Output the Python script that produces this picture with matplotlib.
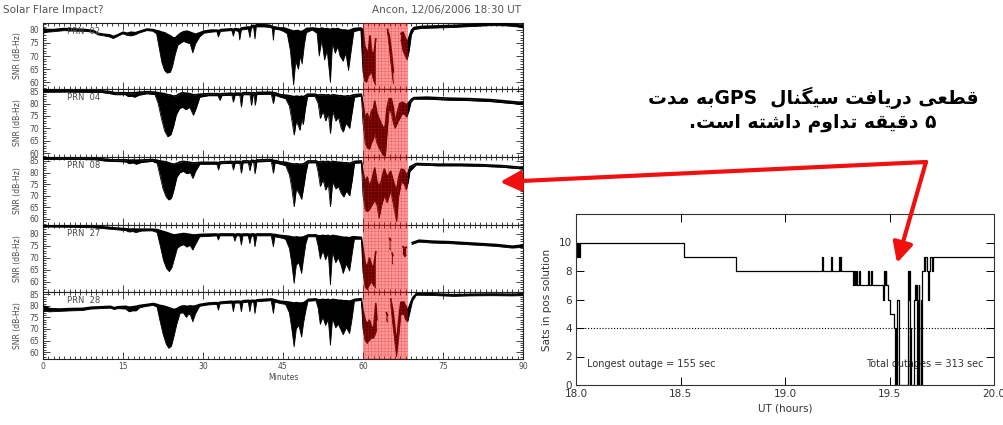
import re
import numpy as np
import matplotlib
matplotlib.use("Agg")
import matplotlib.pyplot as plt
from matplotlib.ticker import MultipleLocator, FixedLocator
from matplotlib.patches import FancyArrowPatch

nan = np.nan

# ---------------------------------------------------------------------------
# SNR traces (minutes after 18:30 UT): knots of (minute, upper envelope, lower envelope)
# ---------------------------------------------------------------------------
PRN02 = [
    (0.0, 80.3, 78.6), (0.8, 80.0, 79.0), (2.0, 80.0, 79.2), (4.0, 80.4, 79.6),
    (6.0, 80.2, 79.4), (8.0, 80.0, 79.3), (9.5, 79.6, 79.0), (10.3, 78.6, 78.0),
    (11.5, 78.2, 77.6), (12.5, 78.0, 77.2), (13.2, 77.4, 76.6), (14.0, 78.0, 77.4),
    (15.0, 79.0, 78.4), (15.8, 78.6, 77.8), (16.5, 79.0, 77.6), (17.3, 78.8, 78.0),
    (18.2, 79.4, 78.8), (19.5, 80.2, 79.6), (20.6, 80.0, 79.4), (21.3, 79.6, 78.4),
    (21.8, 79.4, 73.0), (22.3, 79.0, 67.5), (22.8, 78.8, 64.5), (23.3, 78.2, 63.5),
    (23.9, 77.6, 63.8), (24.3, 77.0, 66.0), (24.8, 76.8, 70.5), (25.3, 77.8, 74.0),
    (25.8, 78.6, 74.8), (26.4, 79.2, 75.5), (27.0, 79.4, 75.0), (27.6, 79.0, 74.6),
    (28.1, 78.6, 71.2), (28.6, 78.2, 74.5), (29.4, 78.8, 77.2), (30.2, 79.4, 78.6),
    (31.5, 79.8, 79.0), (32.6, 79.8, 79.2), (32.9, 79.6, 77.2), (33.3, 80.0, 79.3),
    (35.4, 80.3, 79.6), (35.7, 80.0, 77.5), (36.0, 80.4, 79.7), (36.7, 80.2, 79.2),
    (36.9, 80.0, 76.1), (37.2, 80.6, 79.8), (38.5, 81.0, 80.2), (38.8, 80.8, 77.0),
    (39.1, 81.4, 80.6), (39.5, 81.6, 80.8), (39.75, 81.4, 76.5), (40.0, 81.8, 81.0),
    (41.5, 81.8, 81.0), (42.6, 81.6, 80.8), (43.0, 81.2, 80.4), (43.2, 81.0, 76.0),
    (43.4, 81.0, 80.2), (44.5, 80.6, 79.8), (45.2, 80.6, 79.2), (45.8, 80.2, 78.4),
    (46.4, 79.8, 72.0), (47.0, 79.4, 59.0), (47.4, 79.6, 68.0), (47.9, 79.6, 65.0),
    (48.3, 79.2, 70.0), (48.6, 79.4, 67.0), (49.0, 79.8, 74.0), (49.4, 80.4, 78.8),
    (50.5, 80.6, 79.8), (51.4, 80.4, 78.6), (51.8, 80.2, 70.0), (52.3, 80.6, 76.0),
    (52.8, 80.2, 68.5), (53.3, 80.4, 72.0), (53.9, 80.0, 60.0), (54.3, 80.4, 75.0),
    (54.8, 80.2, 71.0), (55.3, 80.4, 73.5), (55.7, 80.0, 70.0), (56.3, 79.8, 68.0),
    (56.8, 79.8, 71.0), (57.3, 79.6, 64.5), (57.8, 80.0, 72.0), (58.3, 80.4, 79.2),
    (59.6, 80.6, 79.8), (60.0, 80.0, 64.0), (60.3, 74.0, 60.5), (60.7, 72.0, 60.0),
    (61.0, 71.0, 62.0), (61.3, 77.6, 63.0), (61.6, 72.0, 64.0), (62.0, 70.0, 60.5),
    (62.4, 76.5, 59.0), (62.6, nan, nan),
    (64.6, 80.0, 79.0), (64.9, 78.0, 74.0), (65.3, 72.0, 66.0), (65.7, 64.0, 59.5),
    (65.9, nan, nan),
    (67.1, 78.5, 76.0), (67.5, 79.0, 72.0), (67.9, 77.0, 70.0), (68.3, 75.0, 68.5),
    (68.7, 77.5, 72.0), (69.1, 79.8, 78.0), (69.6, 80.8, 80.0), (71.0, 81.2, 80.4),
    (74.0, 81.4, 80.6), (77.0, 81.6, 80.8), (80.0, 81.9, 81.1), (84.0, 82.3, 81.5),
    (87.0, 82.2, 81.4), (89.0, 81.8, 81.0), (90.0, 81.6, 80.6),
]

PRN04 = [
    (0.0, 85.4, 84.6), (4.0, 85.4, 84.7), (8.0, 85.3, 84.6), (11.0, 85.2, 84.5),
    (12.6, 84.8, 84.0), (13.5, 84.4, 83.6), (15.5, 84.4, 83.6), (16.0, 84.3, 82.8),
    (16.6, 84.4, 83.0), (17.2, 84.4, 82.6), (18.0, 84.6, 83.4), (19.5, 84.8, 84.0),
    (21.0, 84.6, 83.6), (21.6, 84.4, 80.0), (22.2, 84.2, 74.0), (22.8, 84.0, 69.0),
    (23.4, 83.6, 66.6), (24.0, 83.4, 67.5), (24.5, 83.0, 71.0), (25.0, 83.2, 75.5),
    (25.6, 84.0, 78.0), (26.2, 84.4, 78.5), (26.8, 84.2, 77.5), (27.5, 84.0, 78.5),
    (28.2, 83.6, 75.3), (28.7, 83.6, 78.0), (29.4, 83.8, 82.6), (31.0, 84.0, 83.2),
    (32.8, 84.0, 83.2), (33.2, 83.8, 81.3), (33.5, 84.0, 83.2), (35.4, 84.2, 83.4),
    (35.7, 84.0, 80.6), (36.0, 84.2, 83.4), (36.9, 84.2, 83.4), (37.2, 84.0, 78.6),
    (37.5, 84.4, 83.6), (38.8, 84.4, 83.6), (39.1, 84.2, 79.3), (39.4, 84.4, 83.6),
    (39.6, 84.4, 83.2), (39.8, 84.2, 79.3), (40.1, 84.5, 83.7), (42.8, 84.6, 83.8),
    (43.2, 84.4, 80.0), (43.5, 84.4, 83.4), (44.5, 83.6, 82.6), (45.5, 83.4, 82.0),
    (46.2, 83.2, 79.0), (46.6, 83.0, 74.0), (47.1, 82.8, 67.3), (47.5, 83.0, 73.0),
    (48.2, 82.8, 69.2), (48.5, 83.0, 74.0), (48.8, 82.8, 71.5), (49.2, 83.2, 78.0),
    (49.6, 83.8, 82.8), (51.0, 83.8, 83.0), (51.6, 83.4, 80.0), (52.0, 83.6, 74.0),
    (52.5, 83.6, 77.0), (53.0, 83.4, 73.0), (53.5, 83.6, 76.0), (53.9, 83.2, 67.9),
    (54.3, 83.6, 77.0), (54.9, 83.4, 73.0), (55.4, 83.2, 74.5), (55.9, 83.2, 70.0),
    (56.3, 83.0, 68.5), (56.8, 83.0, 72.0), (57.2, 83.2, 71.0), (57.5, 83.0, 70.0),
    (58.0, 83.4, 77.0), (58.4, 83.6, 82.6), (59.7, 83.8, 83.0), (60.0, 80.0, 72.0),
    (60.4, 74.0, 64.0), (60.8, 76.0, 62.0), (61.2, 73.0, 61.5), (61.6, 77.0, 64.0),
    (62.0, 78.0, 66.0), (62.2, 81.0, 68.0), (62.6, 76.0, 64.0), (63.0, 74.0, 62.0),
    (63.4, 72.0, 60.5), (63.8, 70.0, 59.0), (64.2, 71.0, 58.8), (64.5, 78.0, 68.0),
    (64.9, 82.0, 78.0), (65.3, 82.0, 76.0), (65.7, 78.0, 72.0), (66.0, 72.0, 70.0),
    (66.4, 76.0, 72.0), (66.9, 80.0, 74.0), (67.4, 80.5, 76.0), (67.8, 80.0, 75.5),
    (68.2, 79.5, 74.5), (68.6, 80.5, 77.0), (69.0, 81.6, 80.6), (69.5, 82.4, 81.8),
    (72.0, 82.6, 81.8), (76.0, 82.2, 81.4), (80.0, 82.0, 81.2), (84.0, 81.6, 80.8),
    (87.0, 81.0, 80.2), (90.0, 80.4, 79.6),
]

PRN08 = [
    (0.0, 86.5, 85.7), (5.0, 86.4, 85.7), (10.0, 86.2, 85.5), (11.5, 85.8, 85.0),
    (13.0, 85.5, 84.8), (15.5, 85.5, 84.6), (16.2, 85.3, 83.8), (16.8, 85.4, 84.2),
    (17.5, 85.3, 83.6), (18.5, 85.4, 84.4), (20.5, 85.6, 84.8), (21.4, 85.3, 84.0),
    (21.9, 85.0, 79.0), (22.5, 84.8, 73.0), (23.1, 84.6, 69.5), (23.6, 84.2, 68.2),
    (24.1, 83.8, 69.0), (24.6, 83.6, 73.0), (25.1, 84.0, 78.0), (25.7, 84.6, 80.0),
    (26.3, 84.8, 80.5), (27.0, 84.6, 79.5), (27.6, 84.4, 80.0), (28.1, 84.2, 77.5),
    (28.6, 84.2, 80.5), (29.4, 84.4, 83.6), (32.6, 84.4, 83.6), (32.9, 84.2, 81.1),
    (33.2, 84.6, 83.8), (35.4, 84.8, 84.0), (35.7, 84.6, 81.1), (36.0, 84.8, 84.0),
    (36.9, 84.8, 84.0), (37.2, 84.6, 79.7), (37.5, 85.0, 84.2), (38.5, 85.0, 84.2),
    (38.8, 84.8, 80.8), (39.1, 85.2, 84.4), (39.5, 85.2, 84.4), (39.75, 85.0, 79.5),
    (40.1, 85.4, 84.6), (42.8, 85.6, 84.8), (43.2, 85.2, 79.7), (43.5, 85.2, 84.2),
    (44.5, 84.6, 83.6), (45.5, 84.4, 83.0), (46.2, 84.0, 79.0), (46.6, 83.8, 74.0),
    (47.1, 83.6, 65.3), (47.5, 83.8, 73.0), (48.0, 83.6, 71.0), (48.5, 83.6, 68.5),
    (48.9, 83.8, 74.0), (49.3, 84.4, 80.0), (49.7, 85.0, 84.2), (51.2, 85.0, 84.2),
    (51.6, 84.6, 80.0), (52.0, 84.6, 74.0), (52.5, 84.8, 77.0), (53.0, 84.6, 72.5),
    (53.5, 84.8, 75.0), (53.9, 84.4, 65.3), (54.3, 84.8, 76.0), (54.9, 84.6, 73.0),
    (55.4, 84.4, 74.0), (55.9, 84.4, 71.1), (56.4, 84.2, 69.5), (56.9, 84.2, 72.0),
    (57.5, 84.0, 70.0), (58.0, 84.4, 77.0), (58.4, 84.8, 84.0), (59.7, 85.0, 84.2),
    (60.0, 80.0, 70.0), (60.4, 76.0, 64.0), (60.8, 78.0, 63.1), (61.2, 74.0, 64.0),
    (61.7, 77.0, 66.0), (62.2, 81.9, 68.0), (62.6, 76.0, 66.0), (63.0, 74.0, 60.3),
    (63.4, 76.0, 65.0), (64.0, 81.5, 70.0), (64.5, 78.0, 67.0), (65.2, 80.5, 72.0),
    (65.7, 76.0, 66.0), (66.3, 72.0, 58.9), (66.7, 78.0, 70.0), (67.2, 81.5, 76.0),
    (67.7, 81.0, 75.0), (68.1, 79.0, 72.5), (68.5, 80.0, 76.0), (68.8, 82.5, 80.5),
    (70.0, 83.9, 83.3), (74.0, 83.6, 82.9), (78.0, 83.6, 82.9), (82.0, 83.4, 82.7),
    (86.0, 83.0, 82.3), (90.0, 82.2, 81.5),
]

PRN27 = [
    (0.0, 83.6, 82.9), (5.0, 83.5, 82.8), (9.0, 83.3, 82.6), (11.0, 83.0, 82.3),
    (13.0, 82.6, 81.9), (15.5, 82.2, 81.4), (16.2, 82.0, 80.8), (16.8, 82.1, 81.0),
    (17.5, 82.0, 80.6), (18.5, 82.0, 81.2), (20.5, 82.0, 81.3), (21.4, 81.8, 80.6),
    (22.0, 81.4, 75.0), (22.6, 81.0, 69.0), (23.2, 80.6, 65.5), (23.7, 80.2, 64.3),
    (24.2, 79.8, 66.0), (24.7, 79.6, 70.0), (25.2, 79.8, 74.0), (25.8, 80.0, 75.0),
    (26.4, 80.2, 75.5), (27.0, 80.0, 74.5), (27.6, 79.8, 75.2), (28.1, 79.6, 73.3),
    (28.6, 79.6, 75.5), (29.4, 79.8, 78.8), (32.6, 80.0, 79.2), (32.9, 79.8, 77.5),
    (33.2, 80.0, 79.2), (35.7, 80.0, 79.2), (36.0, 79.8, 77.0), (36.3, 80.0, 79.2),
    (36.9, 80.0, 79.2), (37.2, 79.8, 75.4), (37.5, 80.0, 79.2), (38.5, 80.0, 79.2),
    (38.8, 79.8, 76.0), (39.1, 80.0, 79.2), (39.5, 80.0, 79.0), (39.75, 79.8, 74.7),
    (40.1, 80.0, 79.2), (42.8, 80.0, 79.2), (43.2, 79.8, 74.7), (43.5, 79.8, 78.8),
    (44.5, 79.4, 78.4), (45.5, 79.2, 77.8), (46.2, 79.0, 74.0), (46.6, 78.8, 68.5),
    (47.1, 78.6, 59.4), (47.5, 78.8, 67.0), (48.0, 78.6, 68.0), (48.5, 78.6, 63.5),
    (48.9, 78.8, 70.0), (49.3, 79.2, 76.0), (49.7, 79.6, 78.8), (51.2, 79.6, 78.8),
    (51.6, 79.2, 75.0), (52.0, 79.2, 69.5), (52.5, 79.4, 73.0), (53.0, 79.2, 69.2),
    (53.5, 79.4, 72.0), (53.9, 79.0, 58.8), (54.3, 79.4, 72.5), (54.9, 79.2, 68.0),
    (55.4, 79.0, 70.0), (55.9, 78.8, 67.0), (56.3, 78.6, 63.5), (56.9, 78.6, 67.5),
    (57.5, 78.4, 64.5), (58.0, 78.8, 72.0), (58.4, 78.8, 77.8), (59.7, 78.6, 77.8),
    (60.0, 74.0, 64.0), (60.4, 68.0, 58.0), (60.8, 66.0, 56.7), (61.2, 70.0, 58.5),
    (61.6, 67.0, 60.0), (62.0, 66.0, 58.5), (62.4, 72.6, 57.5), (62.6, nan, nan),
    (65.0, 78.2, 74.0), (65.15, 77.5, 73.3), (65.3, nan, nan),
    (65.45, 72.0, 68.0), (65.6, 71.0, 67.5), (65.7, nan, nan),
    (67.5, 74.7, 72.0), (67.8, 74.0, 70.5), (68.1, 74.5, 71.0), (68.3, nan, nan),
    (69.2, 76.4, 75.6), (70.5, 77.4, 76.6), (73.0, 77.0, 76.2), (76.0, 76.8, 76.0),
    (79.0, 76.4, 75.6), (82.0, 76.0, 75.2), (85.0, 75.6, 74.8), (88.0, 74.9, 74.1),
    (90.0, 75.4, 74.4),
]

PRN28 = [
    (0.0, 79.8, 77.4), (0.6, 79.6, 77.6), (1.2, 78.8, 77.4), (3.0, 78.6, 77.6),
    (5.0, 78.8, 77.8), (7.5, 78.9, 78.0), (9.0, 79.4, 78.6), (11.0, 79.6, 78.8),
    (12.6, 79.8, 79.0), (13.4, 79.2, 78.4), (14.0, 79.6, 78.8), (15.5, 79.8, 78.6),
    (16.2, 79.4, 77.4), (16.8, 79.6, 77.8), (17.5, 79.8, 77.8), (18.2, 80.2, 79.2),
    (19.5, 80.6, 79.8), (20.7, 81.0, 80.2), (21.4, 80.6, 79.4), (21.9, 80.2, 74.0),
    (22.5, 80.0, 68.0), (23.1, 79.6, 63.5), (23.6, 79.2, 61.6), (24.1, 78.8, 62.5),
    (24.6, 78.4, 67.0), (25.1, 78.8, 72.0), (25.7, 79.6, 76.7), (26.3, 80.0, 77.0),
    (26.9, 79.8, 75.0), (27.2, 79.8, 76.0), (27.6, 80.0, 76.4), (28.1, 79.8, 73.1),
    (28.6, 80.0, 76.5), (29.4, 80.6, 79.8), (31.0, 81.2, 80.4), (32.6, 81.4, 80.6),
    (32.9, 81.2, 78.1), (33.2, 81.6, 80.8), (35.4, 82.0, 81.2), (35.7, 81.8, 77.5),
    (36.0, 82.0, 81.2), (36.9, 82.0, 81.2), (37.2, 81.8, 77.5), (37.5, 82.2, 81.4),
    (38.5, 82.4, 81.6), (38.8, 82.2, 77.5), (39.1, 82.4, 81.6), (39.5, 82.4, 81.6),
    (39.75, 82.2, 76.7), (40.1, 82.6, 81.8), (42.8, 83.0, 82.2), (43.2, 82.8, 76.7),
    (43.5, 82.6, 81.6), (44.5, 82.0, 81.0), (45.5, 81.8, 80.6), (46.2, 81.6, 77.0),
    (46.6, 81.4, 71.0), (47.1, 81.2, 62.3), (47.5, 81.4, 70.0), (48.0, 81.2, 71.5),
    (48.5, 81.2, 66.5), (48.9, 81.4, 73.0), (49.3, 82.0, 78.0), (49.7, 82.8, 82.0),
    (51.2, 83.0, 82.2), (51.6, 82.6, 79.0), (52.0, 82.6, 72.0), (52.5, 82.8, 75.0),
    (53.0, 82.6, 71.5), (53.5, 82.8, 74.0), (53.9, 82.4, 63.0), (54.3, 82.8, 74.5),
    (54.9, 82.6, 70.5), (55.4, 82.4, 72.0), (55.9, 82.4, 69.5), (56.3, 82.2, 67.5),
    (56.9, 82.2, 70.5), (57.5, 82.0, 68.0), (58.0, 82.4, 75.0), (58.4, 82.8, 82.0),
    (59.7, 83.1, 82.3), (60.0, 78.0, 70.0), (60.4, 74.0, 65.0), (60.8, 72.0, 63.7),
    (61.2, 73.8, 65.0), (61.6, 71.0, 66.0), (62.0, 70.0, 66.0), (62.4, 81.0, 68.0),
    (62.6, 74.0, 70.0), (62.8, nan, nan),
    (64.4, 77.0, 74.0), (64.6, 76.0, 73.0), (64.8, nan, nan),
    (65.2, 83.0, 80.5), (65.6, 78.0, 72.0), (66.0, 70.0, 64.0), (66.3, 63.0, 58.0),
    (66.7, 74.0, 66.0), (67.1, 81.5, 76.0), (67.6, 81.7, 76.5), (68.0, 80.0, 74.0),
    (68.4, 78.0, 73.0), (68.8, 80.5, 77.0), (69.3, 83.5, 82.0), (70.0, 85.3, 84.6),
    (73.0, 85.2, 84.5), (77.0, 84.8, 84.1), (80.0, 85.0, 84.3), (84.0, 85.1, 84.4),
    (88.0, 85.0, 84.3), (90.0, 85.2, 84.4),
]

PRN_NAMES = ["02", "04", "08", "27", "28"]
PRN_TRACES = [PRN02, PRN04, PRN08, PRN27, PRN28]
PRN_YLIMS = [(57.5, 82.5), (58.4, 85.9), (57.4, 86.7), (55.8, 83.75), (57.0, 86.0)]

FLARE_START, FLARE_END = 60.0, 68.4   # minutes, highlighted interval
MINUTE_TICKS = [0, 15, 30, 45, 60, 75, 90]

# ---------------------------------------------------------------------------
# Satellites used in the position solution (seconds after 18:00 UT)
# ---------------------------------------------------------------------------
ELAPSED_S = [0, 11, 22, 32, 43, 54, 65, 1861, 2758, 4241, 4255, 4396, 4410,
             4532, 4543, 4554, 4572, 4777, 4792, 4810, 4828, 4846, 4867, 4885,
             5029, 5044, 5076, 5090, 5292, 5299, 5306, 5321, 5332, 5346, 5378,
             5414, 5472, 5490, 5504, 5511, 5537, 5565, 5720, 5727, 5734, 5740,
             5747, 5760, 5766, 5814, 5832, 5850, 5864, 5872, 5890, 5905, 5915,
             5934, 5945, 5965, 5990, 6005, 6020, 6042, 6070, 6080, 6100, 6130,
             6145, 7200]
SATS = [10, 9, 10, 9, 10, 9, 10, 9, 8, 9, 8, 9, 8,
        9, 8, 9, 8, 7, 8, 7, 8, 7, 8, 7,
        8, 7, 8, 7, 6, 7, 8, 7, 8, 7, 6,
        5, 4, 0, 4, 0, 6, 0, 6, 8, 6, 8,
        0, 4, 0, 6, 7, 6, 7, 0, 6, 7, 0,
        6, 0, 8, 9, 8, 9, 8, 6, 8, 9, 8,
        9, 9]
MIN_SATS = 4
UT_TICKS = [18.0, 18.5, 19.0, 19.5, 20.0]

TITLE_LEFT = "Solar Flare Impact?"
TITLE_RIGHT = "Ancon, 12/06/2006 18:30 UT"
NOTE_LINES = ["قطعی دریافت سیگنال  GPSبه مدت", "۵ دقیقه تداوم داشته است."]

# ---------------------------------------------------------------------------
# Minimal Persian shaping for the note (contextual glyph forms + RTL order)
# forms: isolated, final, initial, medial (None = does not join to the left)
# ---------------------------------------------------------------------------
FORMS = {
    "ا": ("\uFE8D", "\uFE8E", None, None),
    "ب": ("\uFE8F", "\uFE90", "\uFE91", "\uFE92"),
    "ت": ("\uFE95", "\uFE96", "\uFE97", "\uFE98"),
    "د": ("\uFEA9", "\uFEAA", None, None),
    "ر": ("\uFEAD", "\uFEAE", None, None),
    "س": ("\uFEB1", "\uFEB2", "\uFEB3", "\uFEB4"),
    "ش": ("\uFEB5", "\uFEB6", "\uFEB7", "\uFEB8"),
    "ط": ("\uFEC1", "\uFEC2", "\uFEC3", "\uFEC4"),
    "ع": ("\uFEC9", "\uFECA", "\uFECB", "\uFECC"),
    "ف": ("\uFED1", "\uFED2", "\uFED3", "\uFED4"),
    "ق": ("\uFED5", "\uFED6", "\uFED7", "\uFED8"),
    "ل": ("\uFEDD", "\uFEDE", "\uFEDF", "\uFEE0"),
    "م": ("\uFEE1", "\uFEE2", "\uFEE3", "\uFEE4"),
    "ن": ("\uFEE5", "\uFEE6", "\uFEE7", "\uFEE8"),
    "ه": ("\uFEE9", "\uFEEA", "\uFEEB", "\uFEEC"),
    "و": ("\uFEED", "\uFEEE", None, None),
    "ی": ("\uFBFC", "\uFBFD", "\uFBFE", "\uFBFF"),
    "گ": ("\uFB92", "\uFB93", "\uFB94", "\uFB95"),
}


def to_visual(text):
    shaped = []
    for i, ch in enumerate(text):
        f = FORMS.get(ch)
        if f is None:
            shaped.append(ch)
            continue
        prev = text[i - 1] if i > 0 else ""
        nxt = text[i + 1] if i + 1 < len(text) else ""
        joins_prev = prev in FORMS and FORMS[prev][2] is not None
        joins_next = f[2] is not None and nxt in FORMS
        if joins_prev and joins_next:
            shaped.append(f[3])
        elif joins_prev:
            shaped.append(f[1])
        elif joins_next:
            shaped.append(f[2])
        else:
            shaped.append(f[0])
    visual = "".join(shaped)[::-1]
    # keep Latin runs left-to-right
    return re.sub(r"[A-Za-z0-9]+", lambda m: m.group(0)[::-1], visual)


# ---------------------------------------------------------------------------
plt.rcParams["hatch.linewidth"] = 0.35
W, H = 1004, 425
fig = plt.figure(figsize=(W / 100, H / 100), dpi=100)
fig.patch.set_facecolor("white")


def px_axes(x0, y0, x1, y1):
    return fig.add_axes([x0 / W, 1 - y1 / H, (x1 - x0) / W, (y1 - y0) / H])


INK = "#000000"
LABEL = "#4a4a4a"
panel_edges = [23, 89, 157, 225, 292, 359]

for i, (name, knots, ylim) in enumerate(zip(PRN_NAMES, PRN_TRACES, PRN_YLIMS)):
    ax = px_axes(43, panel_edges[i], 523, panel_edges[i + 1])
    t, hi, lo = np.array(knots, dtype=float).T
    ax.fill_between(t, lo, hi, color=INK, lw=0, zorder=2)
    ax.plot(t, hi, color=INK, lw=1.2, zorder=3)
    ax.plot(t, lo, color=INK, lw=0.6, zorder=3)
    ax.axvspan(FLARE_START, FLARE_END, facecolor=(1.0, 0.0, 0.0, 0.40),
               edgecolor=(0.85, 0.1, 0.1, 0.45), hatch="+++++", lw=0, zorder=5)
    ax.set_xlim(0, 90)
    ax.set_ylim(*ylim)
    ax.xaxis.set_major_locator(FixedLocator(MINUTE_TICKS))
    ax.xaxis.set_minor_locator(MultipleLocator(1))
    ax.yaxis.set_major_locator(MultipleLocator(5))
    ax.yaxis.set_minor_locator(MultipleLocator(1))
    ax.tick_params(which="both", direction="in", top=True, right=True,
                   color="#222222", labelcolor=LABEL, labelsize=5.5, width=0.6, pad=2.5)
    ax.tick_params(which="major", length=5)
    ax.tick_params(which="minor", length=2.2)
    for s in ax.spines.values():
        s.set_linewidth(0.8)
        s.set_color("#222222")
    ax.set_ylabel("SNR (dB-Hz)", fontsize=5.5, color=LABEL)
    ax.yaxis.set_label_coords(-0.043, 0.5)
    ax.text(0.05, 0.87, f"PRN  {name}", transform=ax.transAxes, fontsize=6,
            color=LABEL, va="center", zorder=4)
    if i < len(PRN_NAMES) - 1:
        ax.tick_params(labelbottom=False)
    else:
        ax.set_xlabel("Minutes", fontsize=5.5, color=LABEL, labelpad=1)

fig.text(3 / W, 1 - 10 / H, TITLE_LEFT, fontsize=7.5, color="#555555", va="center")
fig.text(521 / W, 1 - 10 / H, TITLE_RIGHT, fontsize=7.5, color="#555555",
         va="center", ha="right")

# --- satellites in solution -------------------------------------------------
ut = 18.0 + np.array(ELAPSED_S, dtype=float) / 3600.0
sats = np.array(SATS)
axr = px_axes(576, 214, 994, 385)
axr.step(ut, sats, where="post", color=INK, lw=0.9)
axr.axhline(MIN_SATS, color=INK, lw=0.8, ls=(0, (1, 1.6)))
axr.set_xlim(18, 20)
axr.set_ylim(0, 12)
axr.set_xticks(UT_TICKS)
axr.set_xticklabels([f"{v:.1f}" for v in UT_TICKS])
axr.set_yticks(range(0, 11, 2))
axr.tick_params(direction="in", top=True, right=True, length=6, width=0.7,
                labelsize=7.5, labelcolor="#333333", pad=3)
for s in axr.spines.values():
    s.set_linewidth(0.8)
    s.set_color("#333333")
axr.set_xlabel("UT (hours)", fontsize=7.5, color="#333333", labelpad=3)
axr.set_ylabel("Sats in pos solution", fontsize=7.5, color="#333333")
axr.yaxis.set_label_coords(-0.058, 0.5)

# outage statistics from the solution record
durations = np.diff(ELAPSED_S)
out_mask = sats[:-1] < MIN_SATS
runs, cur = [], 0
for d, m in zip(durations, out_mask):
    if m:
        cur += d
    elif cur:
        runs.append(cur)
        cur = 0
if cur:
    runs.append(cur)
axr.text(18.055, 1.45, f"Longest outage = {max(runs)} sec", fontsize=7,
         color="#333333", va="center")
axr.text(19.95, 1.45, f"Total outages = {sum(runs)} sec", fontsize=7,
         color="#333333", va="center", ha="right", zorder=1)

# --- annotation ---------------------------------------------------------------
for k, line in enumerate(NOTE_LINES):
    fig.text(813 / W, 1 - (98 + 25 * k) / H, to_visual(line), ha="center",
             va="center", fontsize=13.5, fontweight="bold", family=["DejaVu Sans"])

RED = "#f01010"
vertex = (926 / W, 1 - 162 / H)
for tip in [(500 / W, 1 - 182 / H), (897 / W, 1 - 263 / H)]:
    fig.add_artist(FancyArrowPatch(vertex, tip, transform=fig.transFigure,
                                   arrowstyle="-|>,head_length=0.6,head_width=0.3",
                                   mutation_scale=20, lw=3, color=RED,
                                   shrinkA=0, shrinkB=0))

fig.savefig("out.png", dpi=100, facecolor="white")
